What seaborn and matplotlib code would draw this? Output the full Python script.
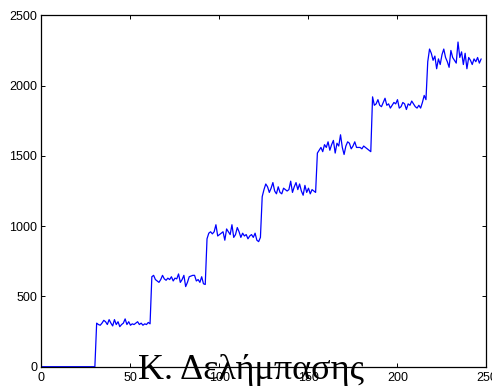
import numpy as np
import pandas as pd
import matplotlib
matplotlib.use("Agg")
import matplotlib.pyplot as plt
import seaborn as sns

# sample values, one block of 31 samples per level
seg0 = [0] * 31
seg1 = [310, 300, 295, 310, 330, 320, 300, 335, 310, 290, 335, 300, 320, 285, 300, 310,
        340, 300, 320, 295, 305, 300, 310, 320, 300, 310, 295, 305, 300, 315, 305]
seg2 = [640, 650, 620, 610, 600, 620, 650, 625, 615, 630, 620, 640, 610, 630, 625, 660,
        600, 620, 650, 570, 600, 640, 645, 650, 650, 610, 620, 600, 640, 590, 585]
seg3 = [910, 950, 960, 945, 960, 1010, 930, 940, 950, 960, 900, 980, 960, 940, 1010, 920,
        940, 990, 960, 920, 950, 930, 940, 910, 930, 940, 920, 950, 900, 890, 920]
seg4 = [1210, 1260, 1300, 1280, 1240, 1270, 1310, 1250, 1230, 1280, 1240, 1230, 1270, 1260,
        1250, 1260, 1320, 1240, 1280, 1310, 1260, 1300, 1250, 1220, 1290, 1240, 1270, 1230,
        1260, 1250, 1240]
seg5 = [1520, 1540, 1560, 1530, 1580, 1560, 1600, 1540, 1580, 1610, 1520, 1590, 1570, 1650,
        1560, 1510, 1570, 1600, 1590, 1550, 1570, 1600, 1560, 1560, 1560, 1550, 1570, 1560,
        1550, 1540, 1530]
seg6 = [1920, 1860, 1870, 1900, 1860, 1850, 1880, 1910, 1860, 1870, 1840, 1860, 1880, 1870,
        1900, 1840, 1850, 1880, 1870, 1830, 1870, 1860, 1890, 1870, 1850, 1840, 1860, 1840,
        1880, 1930, 1900]
seg7 = [2170, 2260, 2230, 2180, 2210, 2120, 2190, 2150, 2220, 2260, 2200, 2170, 2130, 2250,
        2200, 2180, 2160, 2310, 2200, 2240, 2150, 2230, 2120, 2200, 2180, 2150, 2190, 2170,
        2200, 2160, 2190]

values = seg0 + seg1 + seg2 + seg3 + seg4 + seg5 + seg6 + seg7
xticks = [0, 50, 100, 150, 200, 250]
yticks = [0, 500, 1000, 1500, 2000, 2500]
caption = "Κ. Δελήμπασης"

df = pd.DataFrame({"n": np.arange(len(values)), "v": values})

sns.set_theme(style="ticks")
plt.rcParams["font.family"] = ["Liberation Sans", "DejaVu Sans"]
plt.rcParams["xtick.direction"] = "in"
plt.rcParams["ytick.direction"] = "in"

fig = plt.figure(figsize=(4.92, 3.86), dpi=100)
ax = fig.add_axes([0.0843, 0.05, 0.9045, 0.9103])
sns.lineplot(data=df, x="n", y="v", color="blue", linewidth=0.9, ax=ax)

ax.set_xlim(0, 250)
ax.set_ylim(0, 2500)
ax.set_xticks(xticks)
ax.set_yticks(yticks)
ax.set_xlabel("")
ax.set_ylabel("")
ax.tick_params(labelsize=9, length=3, width=0.7, top=True, right=True, colors="black")
ax.tick_params(axis="y", pad=3)
ax.tick_params(axis="x", pad=3.5)
for s in ax.spines.values():
    s.set_linewidth(0.9)
    s.set_color("black")

# caption drawn over the x tick labels, as in the original slide
fig.text(0.280, 0.0173, caption, family=["Liberation Serif", "DejaVu Serif"],
         fontsize=26, ha="left", va="baseline", color="black")

fig.savefig("out.png", dpi=100)
